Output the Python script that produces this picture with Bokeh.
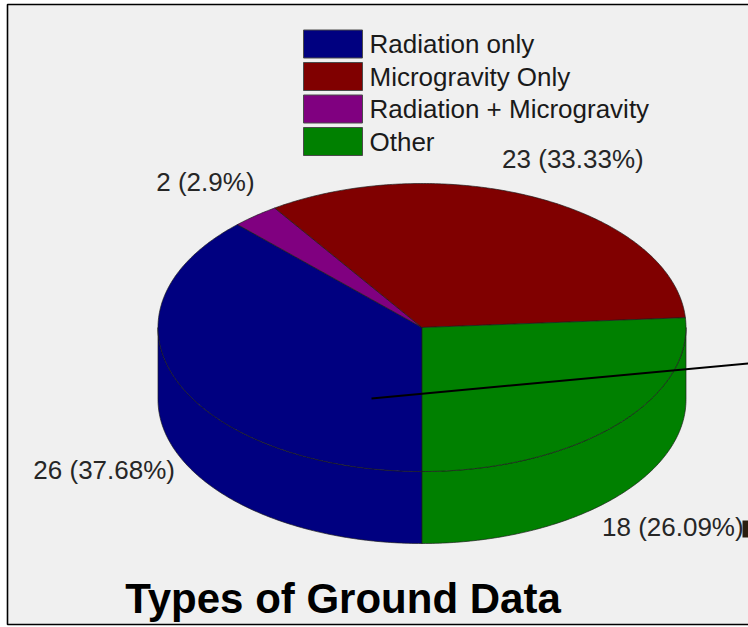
import numpy as np
from bokeh.plotting import figure
from bokeh.models import Range1d
from bokeh.core.properties import value
from bokeh.embed import file_html
from bokeh.resources import INLINE

# ---- data ----
categories = ["Radiation only", "Microgravity Only", "Radiation + Microgravity", "Other"]
counts = [26, 23, 2, 18]
colors = ["#000080", "#800000", "#800080", "#008000"]
# order in which slices are laid out clockwise from 6 o'clock
pie_order = [0, 2, 1, 3]
title = "Types of Ground Data"

# ---- layout (pixel space, y grows downward) ----
W, H = 748, 627
CX, CY = 421.5, 327.0      # centre of the top face
RX, RY = 264.0, 144.0      # radii of the top face
DEPTH = 72.0               # thickness of the disc
LABEL_K = 1.3              # label distance as a fraction of the radius
FONT = "Liberation Sans"

p = figure(width=W, height=H, x_range=Range1d(0, W), y_range=Range1d(H, 0),
           output_backend="svg", toolbar_location=None, min_border=0)
p.axis.visible = False
p.grid.visible = False
p.outline_line_color = None
p.background_fill_color = "#ffffff"
p.border_fill_color = "#ffffff"

# panel with frame
p.quad(left=[7], right=[W + 20], top=[4], bottom=[624],
       fill_color="#f0f0f0", line_color="#000000", line_width=1.6)


def pt(a_deg, drop=0.0):
    a = np.radians(a_deg)
    return CX + RX * np.cos(a), CY - RY * np.sin(a) + drop


total = float(sum(counts))
fracs = [c / total for c in counts]

# angular extent of each slice (degrees, going clockwise = decreasing angle)
spans = {}
start = -90.0
for i in pie_order:
    end = start - fracs[i] * 360.0
    spans[i] = (start, end)
    start = end

OUT = "#1c1c1c"

# side walls of the front half
for i in pie_order:
    a_start, a_end = spans[i]
    lo, hi = a_end, a_start
    for k in range(-2, 2):
        f_lo, f_hi = -180.0 + 360 * k, 0.0 + 360 * k
        s_lo, s_hi = max(lo, f_lo), min(hi, f_hi)
        if s_hi - s_lo <= 1e-6:
            continue
        ang = np.linspace(s_lo, s_hi, 120)
        tx, ty = pt(ang)
        bx, by = pt(ang[::-1], DEPTH)
        p.patch(np.concatenate([tx, bx]), np.concatenate([ty, by]),
                fill_color=colors[i], line_color=OUT, line_width=0.8, line_alpha=0.85)

# top faces
for i in pie_order:
    a_start, a_end = spans[i]
    n = max(8, int(abs(a_start - a_end) * 1.5))
    ang = np.linspace(a_start, a_end, n)
    ax, ay = pt(ang)
    xs = np.concatenate([[CX], ax, [CX]])
    ys = np.concatenate([[CY], ay, [CY]])
    p.patch(xs, ys, fill_color=colors[i], line_color=OUT, line_width=0.8, line_alpha=0.85)

# slice labels
lx, ly, lt = [], [], []
for i in pie_order:
    a_start, a_end = spans[i]
    mid = 0.5 * (a_start + a_end)
    r = np.radians(mid)
    x = CX + LABEL_K * RX * np.cos(r)
    y = CY - LABEL_K * RY * np.sin(r) + (DEPTH if np.sin(r) < 0 else 0.0)
    pct = f"{100.0 * fracs[i]:.2f}".rstrip("0").rstrip(".")
    lx.append(x)
    ly.append(y)
    lt.append(f"{counts[i]} ({pct}%)")
p.text(x=lx, y=ly, text=lt, text_font=value(FONT), text_font_size="26px",
       text_color="#262626", text_align="center", text_baseline="middle")

# callout line across the chart
callout_x = [371, W + 10]
callout_y = [398, 362]
p.line(callout_x, callout_y, line_color="#000000", line_width=2)
p.quad(left=[742], right=[W], top=[520], bottom=[537], fill_color="#2b1d0e", line_color=None)

# legend
leg_x0, leg_x1 = 303, 362
leg_y0, leg_step, box_h = 43.5, 32.5, 28
ys = [leg_y0 + j * leg_step for j in range(len(categories))]
p.quad(left=[leg_x0] * len(ys), right=[leg_x1] * len(ys),
       top=[y - box_h / 2 for y in ys], bottom=[y + box_h / 2 for y in ys],
       fill_color=colors, line_color="#4a4a4a", line_width=1)
p.text(x=[369] * len(ys), y=ys, text=categories, text_font=value(FONT),
       text_font_size="26px", text_color="#1a1a1a", text_align="left",
       text_baseline="middle")

# title
p.text(x=[342.5], y=[598], text=[title], text_font=value(FONT), text_font_size="42px",
       text_font_style="bold", text_color="#000000", text_align="center",
       text_baseline="alphabetic")

open("out.html", "w").write(file_html(p, INLINE))
